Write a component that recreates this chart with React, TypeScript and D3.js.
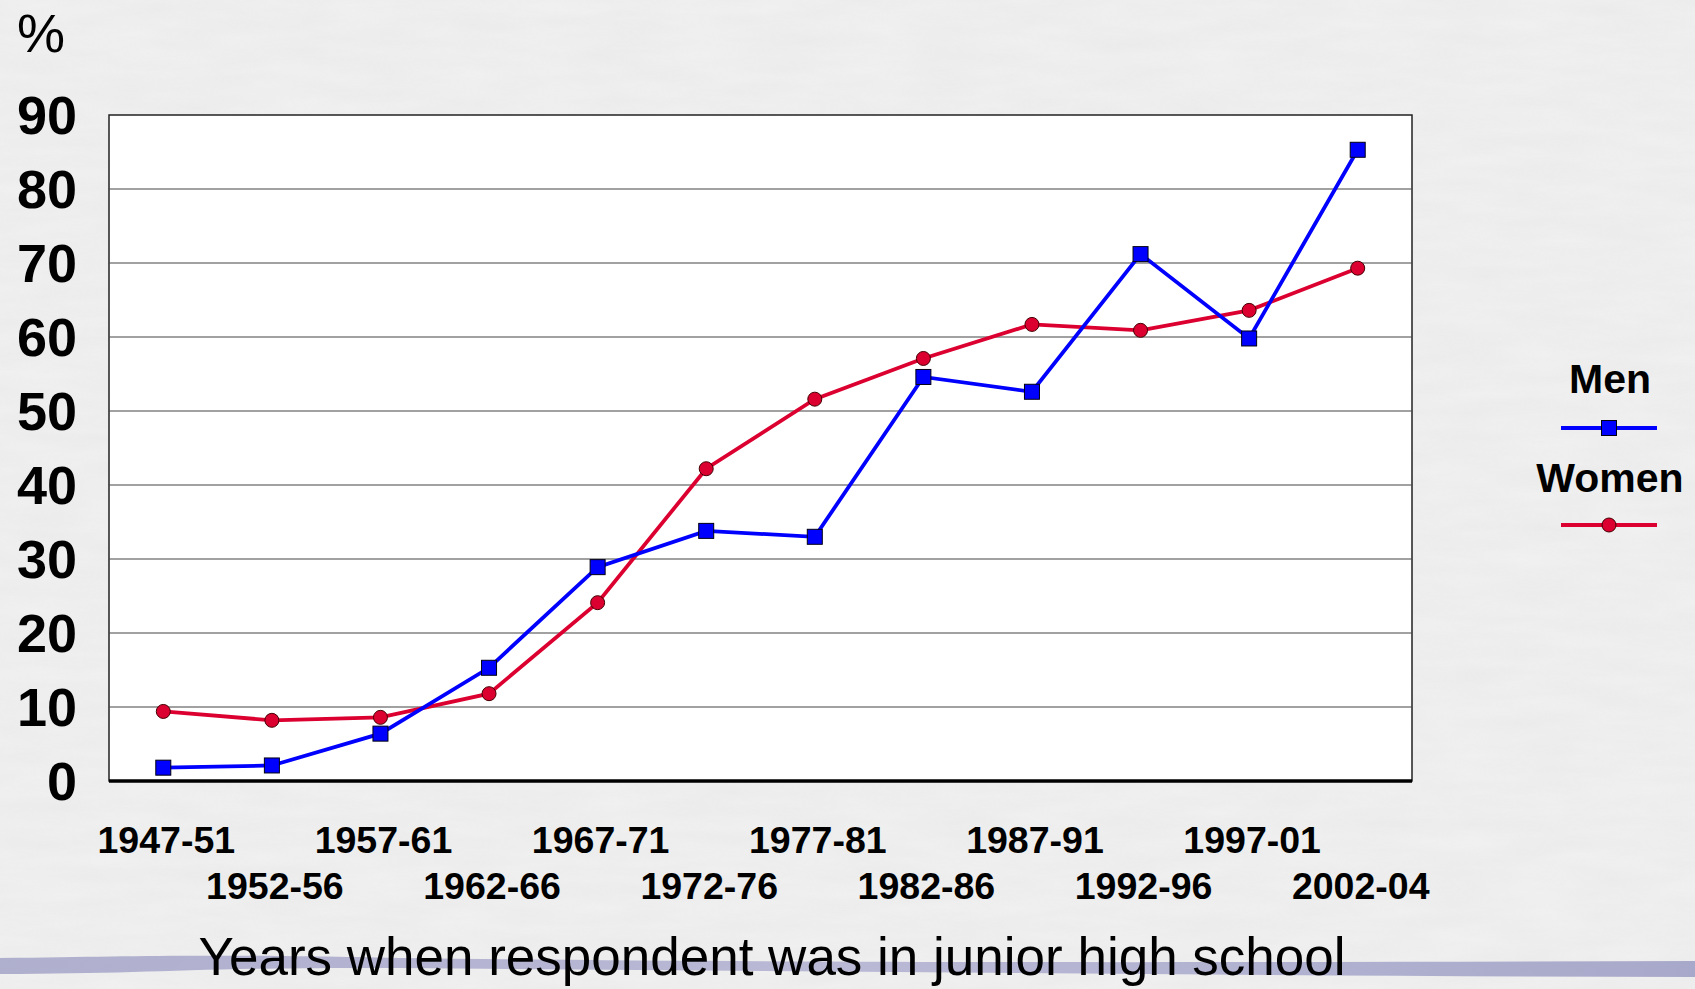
import React from 'react';
import * as d3 from 'd3';

// periods on the x axis
const periods = [
  '1947-51', '1952-56', '1957-61', '1962-66', '1967-71', '1972-76',
  '1977-81', '1982-86', '1987-91', '1992-96', '1997-01', '2002-04',
];

// percentages
const men = [1.8, 2.1, 6.4, 15.3, 28.9, 33.8, 33.0, 54.6, 52.6, 71.2, 59.8, 85.3];
const women = [9.4, 8.2, 8.6, 11.8, 24.1, 42.2, 51.6, 57.1, 61.7, 60.9, 63.6, 69.3];

const yTicks = [0, 10, 20, 30, 40, 50, 60, 70, 80, 90];

const W = 1695;
const H = 989;
const margin = { top: 115, right: 283, bottom: 208, left: 109 };

const MEN_COLOR = '#0000ff';
const WOMEN_COLOR = '#dc0030';
const FONT = 'Arial, "Liberation Sans", sans-serif';

const App = () => {
  const x = d3.scalePoint<string>()
    .domain(periods)
    .range([margin.left, W - margin.right])
    .padding(0.5);

  const y = d3.scaleLinear()
    .domain([0, 90])
    .range([H - margin.bottom, margin.top]);

  const line = d3.line<number>()
    .x((_, i) => x(periods[i]) as number)
    .y(d => y(d));

  const plotW = W - margin.left - margin.right;
  const plotH = H - margin.top - margin.bottom;

  return (
    <svg width={W} height={H} style={{ position: 'absolute', left: 0, top: 0, display: 'block' }}>
      <defs>
        <filter id="paper" x="0" y="0" width="100%" height="100%">
          <feTurbulence type="fractalNoise" baseFrequency="0.012 0.06" numOctaves={3} seed={4} />
          <feColorMatrix type="matrix" values="0 0 0 0 0.6  0 0 0 0 0.6  0 0 0 0 0.6  0 0 0 0.35 0" />
        </filter>
        <linearGradient id="swoosh" x1="0" x2="1" y1="0" y2="0">
          <stop offset="0" stopColor="#a4a4c8" />
          <stop offset="0.5" stopColor="#b0b0d2" />
          <stop offset="1" stopColor="#9c9cc4" />
        </linearGradient>
      </defs>

      {/* textured background */}
      <rect width={W} height={H} fill="#f1f1f1" />
      <rect width={W} height={H} filter="url(#paper)" opacity={0.5} />

      {/* decorative swoosh at the bottom */}
      <path
        d={`M0,958 C150,956 200,954 400,958 C900,964 1300,962 1695,961 L1695,977 C1300,976 900,972 400,968 C200,967 150,974 0,974 Z`}
        fill="url(#swoosh)"
        opacity={0.85}
      />

      {/* plot area */}
      <rect x={margin.left} y={margin.top} width={plotW} height={plotH} fill="#ffffff" stroke="#222" strokeWidth={1.5} />

      {yTicks.filter(t => t > 0 && t < 90).map(t => (
        <line key={t} x1={margin.left} x2={margin.left + plotW} y1={y(t)} y2={y(t)} stroke="#444" strokeWidth={1.2} />
      ))}

      <line x1={margin.left} x2={margin.left + plotW} y1={y(0)} y2={y(0)} stroke="#000" strokeWidth={3.5} />

      {/* y tick labels */}
      {yTicks.map(t => (
        <text key={t} x={77} y={y(t)} dy="0.36em" textAnchor="end"
          style={{ fontFamily: FONT, fontWeight: 700, fontSize: 54 }} fill="#000">
          {t}
        </text>
      ))}

      <text x={17} y={52} style={{ fontFamily: FONT, fontSize: 54 }} fill="#000">%</text>

      {/* x tick labels, staggered */}
      {periods.map((p, i) => (
        <text key={p} x={(x(p) as number) + 3} y={i % 2 === 0 ? 853 : 899} textAnchor="middle"
          style={{ fontFamily: FONT, fontWeight: 700, fontSize: 37.5 }} fill="#000">
          {p}
        </text>
      ))}

      <text x={772} y={975} textAnchor="middle" style={{ fontFamily: FONT, fontSize: 53 }} fill="#000">
        Years when respondent was in junior high school
      </text>

      {/* series */}
      <path d={line(women) || ''} fill="none" stroke={WOMEN_COLOR} strokeWidth={3.8} />
      <path d={line(men) || ''} fill="none" stroke={MEN_COLOR} strokeWidth={3.8} />

      {women.map((v, i) => (
        <circle key={'w' + i} cx={x(periods[i]) as number} cy={y(v)} r={7} fill={WOMEN_COLOR} stroke="#400" strokeWidth={1} />
      ))}
      {men.map((v, i) => (
        <rect key={'m' + i} x={(x(periods[i]) as number) - 7.5} y={y(v) - 7.5} width={15} height={15} fill={MEN_COLOR} stroke="#001" strokeWidth={1} />
      ))}

      {/* legend */}
      <g>
        <text x={1610} y={393} textAnchor="middle" style={{ fontFamily: FONT, fontWeight: 700, fontSize: 41 }} fill="#000">Men</text>
        <line x1={1561} x2={1657} y1={428} y2={428} stroke={MEN_COLOR} strokeWidth={3.8} />
        <rect x={1601.5} y={420.5} width={15} height={15} fill={MEN_COLOR} stroke="#001" strokeWidth={1} />

        <text x={1610} y={492} textAnchor="middle" style={{ fontFamily: FONT, fontWeight: 700, fontSize: 41 }} fill="#000">Women</text>
        <line x1={1561} x2={1657} y1={525} y2={525} stroke={WOMEN_COLOR} strokeWidth={3.8} />
        <circle cx={1609} cy={525} r={7} fill={WOMEN_COLOR} stroke="#400" strokeWidth={1} />
      </g>
    </svg>
  );
};

export default App;
